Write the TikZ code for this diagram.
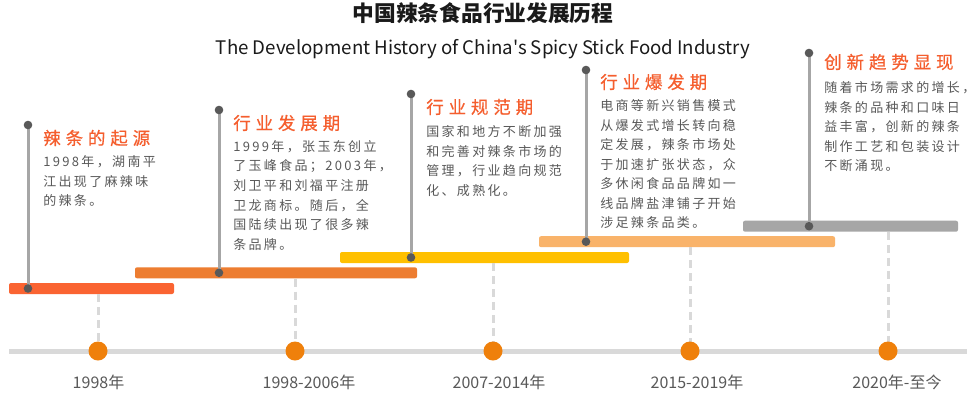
\documentclass[tikz,border=0pt]{standalone}
\usepackage{fontspec}
\setmainfont{Noto Sans CJK SC}
\newfontfamily\cjkf{Noto Sans CJK SC}
\newfontfamily\bodyf[LetterSpace=18]{Noto Sans CJK SC}
\newfontfamily\headf[LetterSpace=28,FakeBold=0.6]{Noto Sans CJK SC}
\newcommand\pxu{0.75pt}
\definecolor{headc}{HTML}{F55E2E}
\definecolor{barA}{HTML}{FA6432}
\definecolor{barB}{HTML}{ED7D31}
\definecolor{barC}{HTML}{FFC000}
\definecolor{barD}{HTML}{F9B36A}
\definecolor{barE}{HTML}{A6A6A6}
\definecolor{dotc}{HTML}{EF800B}
\definecolor{axisc}{HTML}{D9D9D9}
\definecolor{stemc}{HTML}{A6A6A6}
\definecolor{sdotc}{HTML}{595959}
\definecolor{txtc}{HTML}{595959}
\definecolor{titc}{HTML}{1A1A1A}
\tikzset{
  barbox/.style={rectangle, rounded corners=1.5pt, inner sep=0pt, minimum height=11*\pxu},
  odot/.style={circle, fill=dotc, inner sep=0pt, minimum size=19*\pxu},
  sdot/.style={circle, fill=sdotc, inner sep=0pt, minimum size=8.6*\pxu},
  stemline/.style={draw=stemc, line width=3*\pxu},
  dashline/.style={draw=axisc, line width=3*\pxu, dash pattern=on 8*\pxu off 5*\pxu},
  axisline/.style={draw=axisc, line width=5*\pxu},
  hd/.style={anchor=west, inner sep=0pt, text=headc, font=\headf\fontsize{13.1pt}{15pt}\selectfont},
  bodytxt/.style={anchor=west, inner sep=0pt, text=txtc, font=\bodyf\fontsize{9.75pt}{12pt}\selectfont},
  yearlbl/.style={inner sep=0pt, text=txtc, font=\cjkf\fontsize{12pt}{14pt}\selectfont},
  mytitle/.style={inner sep=0pt, text=titc, font=\cjkf\bfseries\fontsize{16.3pt}{18pt}\selectfont},
  subt/.style={inner sep=0pt, text=titc, font=\cjkf\fontsize{14pt}{17pt}\selectfont},
}
\newcommand\txtblock[4]{%
  \foreach \ln [count=\i from 0] in {#4} {
    \node[bodytxt] (#1-\i) at (#2, #3+19.5*\i) {\ln};
  }%
}
\begin{document}
\begin{tikzpicture}[x=0.75pt,y=-0.75pt]
\useasboundingbox (0,0) rectangle (977,393);
\fill[white] (0,0) rectangle (977,393);

% titles
\node[mytitle] (title) at (483,13.5) {中国辣条食品行业发展历程};
\node[subt] (subtitle) at (483,49) {The Development History of China's Spicy Stick Food Industry};

% axis
\coordinate (axL) at (9,351);
\coordinate (axR) at (967,351);
\draw[axisline] (axL) -- (axR);

% bars
\node[barbox, fill=barA, minimum width=165*\pxu] (bar1) at (91.5,288.5) {};
\node[barbox, fill=barB, minimum width=282*\pxu] (bar2) at (276,272.8) {};
\node[barbox, fill=barC, minimum width=289*\pxu] (bar3) at (484.5,257.5) {};
\node[barbox, fill=barD, minimum width=296*\pxu] (bar4) at (687,241.7) {};
\node[barbox, fill=barE, minimum width=215*\pxu] (bar5) at (850.5,226.2) {};

% axis dots (positions)
\coordinate (p1) at (98,351);
\coordinate (p2) at (295,351);
\coordinate (p3) at (493,351);
\coordinate (p4) at (690,351);
\coordinate (p5) at (888,351);

% dashed connectors
\draw[dashline] (bar1.south -| p1) -- (p1);
\draw[dashline] (bar2.south -| p2) -- (p2);
\draw[dashline] (bar3.south -| p3) -- (p3);
\draw[dashline] (bar4.south -| p4) -- (p4);
\draw[dashline] (bar5.south -| p5) -- (p5);

\node[odot] (d1) at (p1) {};
\node[odot] (d2) at (p2) {};
\node[odot] (d3) at (p3) {};
\node[odot] (d4) at (p4) {};
\node[odot] (d5) at (p5) {};

% year labels
\node[yearlbl] (y1) at (98.5,382) {1998年};
\node[yearlbl] (y2) at (309,382) {1998-2006年};
\node[yearlbl] (y3) at (499,382) {2007-2014年};
\node[yearlbl] (y4) at (697,382) {2015-2019年};
\node[yearlbl] (y5) at (897,382) {2020年-至今};

% stems
\coordinate (s1) at (28,125);
\coordinate (s2) at (219,110);
\coordinate (s3) at (411,94);
\coordinate (s4) at (586,70);
\coordinate (s5) at (809,53);
\draw[stemline] (s1) -- (s1 |- bar1.center);
\draw[stemline] (s2) -- (s2 |- bar2.center);
\draw[stemline] (s3) -- (s3 |- bar3.center);
\draw[stemline] (s4) -- (s4 |- bar4.center);
\draw[stemline] (s5) -- (s5 |- bar5.center);
\node[sdot] (s1t) at (s1) {};
\node[sdot] (s2t) at (s2) {};
\node[sdot] (s3t) at (s3) {};
\node[sdot] (s4t) at (s4) {};
\node[sdot] (s5t) at (s5) {};
\node[sdot] (s1b) at (s1 |- bar1.center) {};
\node[sdot] (s2b) at (s2 |- bar2.center) {};
\node[sdot] (s3b) at (s3 |- bar3.center) {};
\node[sdot] (s4b) at (s4 |- bar4.center) {};
\node[sdot] (s5b) at (s5 |- bar5.center) {};

% headings
\node[hd] (h1) at (43,138) {辣条的起源};
\node[hd] (h2) at (233,123) {行业发展期};
\node[hd] (h3) at (426,107) {行业规范期};
\node[hd] (h4) at (600,82) {行业爆发期};
\node[hd] (h5) at (824,62) {创新趋势显现};

% body texts
\txtblock{b1}{43}{162}{1998年，湖南平,江出现了麻辣味,的辣条。}
\txtblock{b2}{233}{147}{1999年，张玉东创立,了玉峰食品；2003年，,刘卫平和刘福平注册,卫龙商标。随后，全,国陆续出现了很多辣,条品牌。}
\txtblock{b3}{426}{132}{国家和地方不断加强,和完善对辣条市场的,管理，行业趋向规范,化、成熟化。}
\txtblock{b4}{600}{106}{电商等新兴销售模式,从爆发式增长转向稳,定发展，辣条市场处,于加速扩张状态，众,多休闲食品品牌如一,线品牌盐津铺子开始,涉足辣条品类。}
\txtblock{b5}{824}{88}{随着市场需求的增长，,辣条的品种和口味日,益丰富，创新的辣条,制作工艺和包装设计,不断涌现。}
\end{tikzpicture}
\end{document}
